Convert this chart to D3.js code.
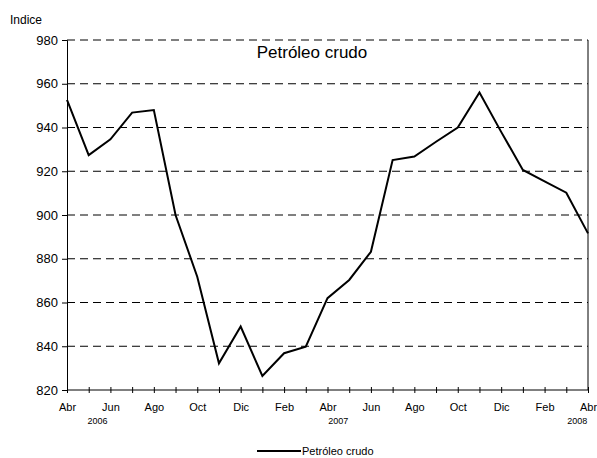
<!DOCTYPE html>
<html>
<head>
<meta charset="utf-8">
<script src="https://cdn.jsdelivr.net/npm/d3@7"></script>
<style>
  body { margin: 0; background: #fff; }
  svg { font-family: "Liberation Sans", Arial, sans-serif; }
</style>
</head>
<body>
<div id="chart"></div>
<script>
// monthly index values, Abr 2006 .. Abr 2008
var months = ["Abr","May","Jun","Jul","Ago","Sep","Oct","Nov","Dic","Ene","Feb","Mar",
              "Abr","May","Jun","Jul","Ago","Sep","Oct","Nov","Dic","Ene","Feb","Mar","Abr"];
var values = [952.6, 927.4, 934.6, 946.8, 948, 900, 871.8, 832.2, 849, 826.4, 836.8, 839.8,
              862, 870.3, 883.2, 925.1, 926.7, 933.5, 940, 956, 938, 920.6, 915.4, 910.2, 891.6];
var years = [{i: 1.4, label: "2006"}, {i: 12.5, label: "2007"}, {i: 23.5, label: "2008"}];
var yTicks = [820, 840, 860, 880, 900, 920, 940, 960, 980];

var W = 597, H = 458;
var pLeft = 67, pRight = 588, pTop = 40, pBottom = 390;

var svg = d3.select("#chart").append("svg")
  .attr("width", W).attr("height", H);

var x = d3.scaleLinear().domain([0, values.length - 1]).range([pLeft, pRight]);
var y = d3.scaleLinear().domain([820, 980]).range([pBottom, pTop]);

// dashed gridlines
svg.append("g").selectAll("line")
  .data(yTicks.filter(function(d) { return d > 820; }))
  .enter().append("line")
  .attr("x1", pLeft).attr("x2", pRight)
  .attr("y1", function(d) { return y(d); })
  .attr("y2", function(d) { return y(d); })
  .attr("stroke", "#000").attr("stroke-width", 1)
  .attr("stroke-dasharray", "8,5");

// y axis
var yAxis = d3.axisLeft(y).tickValues(yTicks).tickSize(5).tickPadding(4);
var gy = svg.append("g").attr("transform", "translate(" + pLeft + ",0)").call(yAxis);
gy.select(".domain").attr("stroke", "#000");
gy.selectAll("text").attr("font-size", 13).attr("fill", "#000")
  .attr("font-family", "'Liberation Sans', Arial, sans-serif");

// right border
svg.append("line").attr("x1", pRight).attr("x2", pRight).attr("y1", pTop).attr("y2", pBottom)
  .attr("stroke", "#000").attr("stroke-width", 1);

// x axis
var xAxis = d3.axisBottom(x).tickValues(d3.range(values.length)).tickSize(3)
  .tickFormat(function(i) { return i % 2 === 0 ? months[i] : ""; });
var gx = svg.append("g").attr("transform", "translate(0," + pBottom + ")").call(xAxis);
gx.select(".domain").attr("d", "M" + pLeft + ",0H" + pRight).attr("stroke", "#000");
gx.selectAll(".tick line").attr("y1", -3).attr("y2", 3).attr("stroke", "#000");
gx.selectAll("text").attr("font-size", 11).attr("fill", "#000").attr("y", 13)
  .attr("font-family", "'Liberation Sans', Arial, sans-serif");

svg.append("g").selectAll("text").data(years).enter().append("text")
  .attr("x", function(d) { return x(d.i); })
  .attr("y", 424)
  .attr("text-anchor", "middle")
  .attr("font-size", 9)
  .text(function(d) { return d.label; });

// series line
var line = d3.line()
  .x(function(d, i) { return x(i); })
  .y(function(d) { return y(d); });
svg.append("path").datum(values)
  .attr("d", line)
  .attr("fill", "none").attr("stroke", "#000").attr("stroke-width", 2)
  .attr("stroke-linejoin", "miter");

// titles
svg.append("text").attr("x", 10).attr("y", 24).attr("font-size", 12).text("Indice");
svg.append("text").attr("x", 312).attr("y", 58).attr("text-anchor", "middle")
  .attr("font-size", 17).text("Petróleo crudo");

// legend
svg.append("line").attr("x1", 257).attr("x2", 301).attr("y1", 451).attr("y2", 451)
  .attr("stroke", "#000").attr("stroke-width", 2);
svg.append("text").attr("x", 302).attr("y", 455).attr("font-size", 11).text("Petróleo crudo");
</script>
</body>
</html>
